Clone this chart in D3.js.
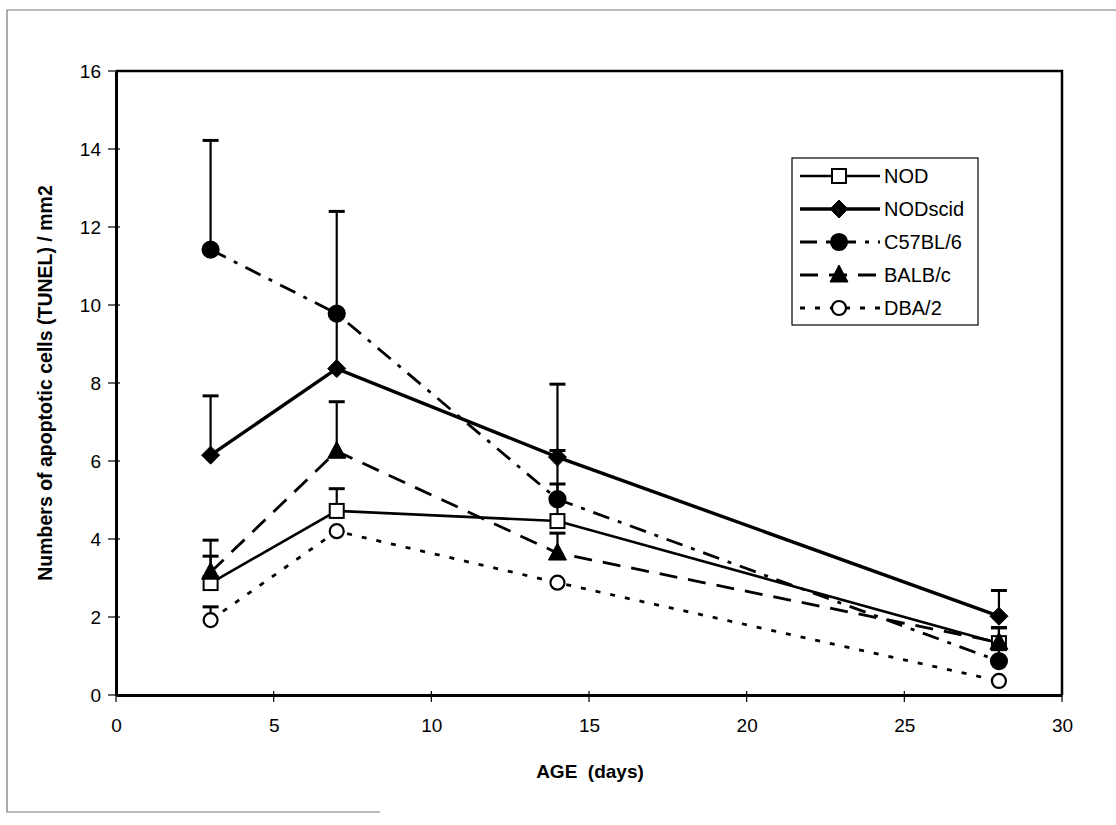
<!DOCTYPE html>
<html>
<head>
<meta charset="utf-8">
<script src="https://cdn.jsdelivr.net/npm/d3@7"></script>
<style>
  body { margin: 0; background: #fff; }
  svg { display: block; font-family: "Liberation Sans", Arial, sans-serif; }
</style>
</head>
<body>
<div id="chart"></div>
<script>
// values
const days = [3, 7, 14, 28];
const xTicks = [0, 5, 10, 15, 20, 25, 30];
const yTicks = [0, 2, 4, 6, 8, 10, 12, 14, 16];

const nodMean = [2.87, 4.72, 4.46, 1.33];
const nodErr = [0.69, 0.57, 0.95, 0.4];
const nodscidMean = [6.15, 8.37, 6.1, 2.02];
const nodscidErr = [1.52, 1.45, 1.87, 0.66];
const c57Mean = [11.42, 9.78, 5.02, 0.87];
const c57Err = [2.8, 2.62, 1.25, 0.3];
const balbMean = [3.15, 6.25, 3.64, 1.35];
const balbErr = [0.82, 1.27, 0.51, 0.37];
const dbaMean = [1.92, 4.2, 2.88, 0.36];
const dbaErr = [0.34, 0, 0, 0];

const seriesNames = ["NOD", "NODscid", "C57BL/6", "BALB/c", "DBA/2"];

const series = [
  { name: seriesNames[0], mean: nodMean, err: nodErr, dash: null, width: 2.6, marker: "square", fill: "#fff" },
  { name: seriesNames[1], mean: nodscidMean, err: nodscidErr, dash: null, width: 3.4, marker: "diamond", fill: "#000" },
  { name: seriesNames[2], mean: c57Mean, err: c57Err, dash: "17,9,4,9", width: 2.8, marker: "circle", fill: "#000" },
  { name: seriesNames[3], mean: balbMean, err: balbErr, dash: "18,11", width: 2.8, marker: "triangle", fill: "#000" },
  { name: seriesNames[4], mean: dbaMean, err: dbaErr, dash: "5,10", width: 2.8, marker: "circle", fill: "#fff" }
];

const W = 1116, H = 825;
const svg = d3.select("#chart").append("svg")
  .attr("width", W)
  .attr("height", H);

// faint outer frame of the scanned page
svg.append("path")
  .attr("d", "M1116,10 H7 V812 H380")
  .attr("fill", "none")
  .attr("stroke", "#777")
  .attr("stroke-width", 1.2);

const x = d3.scaleLinear().domain([0, 30]).range([116, 1062]);
const y = d3.scaleLinear().domain([0, 16]).range([695, 71]);

// plot area border (top and right)
svg.append("path")
  .attr("d", `M${x(0)},${y(16)} H${x(30)} V${y(0)}`)
  .attr("fill", "none")
  .attr("stroke", "#000")
  .attr("stroke-width", 2.5);

// axes
const xAxis = svg.append("g")
  .attr("transform", `translate(0,${y(0)})`)
  .call(d3.axisBottom(x).tickValues(xTicks).tickSize(0).tickPadding(24));
xAxis.select(".domain").attr("stroke-width", 3);
xAxis.selectAll("text").attr("font-size", 19).attr("fill", "#000");
svg.append("g").selectAll("line")
  .data(xTicks)
  .join("line")
  .attr("x1", d => x(d)).attr("x2", d => x(d))
  .attr("y1", y(0) - 4).attr("y2", y(0) + 7)
  .attr("stroke", "#000").attr("stroke-width", 1.2);

const yAxis = svg.append("g")
  .attr("transform", `translate(${x(0)},0)`)
  .call(d3.axisLeft(y).tickValues(yTicks).tickSize(0).tickPadding(15));
yAxis.select(".domain").attr("stroke-width", 3);
yAxis.selectAll("text").attr("font-size", 19).attr("fill", "#000");
svg.append("g").selectAll("line")
  .data(yTicks)
  .join("line")
  .attr("x1", x(0) - 8).attr("x2", x(0) + 4)
  .attr("y1", d => y(d)).attr("y2", d => y(d))
  .attr("stroke", "#000").attr("stroke-width", 1.2);

svg.append("text")
  .attr("x", 590).attr("y", 778)
  .attr("text-anchor", "middle")
  .attr("font-size", 19).attr("font-weight", "bold")
  .attr("xml:space", "preserve")
  .text("AGE  (days)");

svg.append("text")
  .attr("transform", "translate(52,383) rotate(-90)")
  .attr("text-anchor", "middle")
  .attr("font-size", 19.5).attr("font-weight", "bold")
  .text("Numbers of apoptotic cells (TUNEL) / mm2");

function drawMarker(g, type, fill, cx, cy) {
  if (type === "square") {
    g.append("rect").attr("x", cx - 7).attr("y", cy - 7).attr("width", 14).attr("height", 14)
      .attr("fill", fill).attr("stroke", "#000").attr("stroke-width", 2);
  } else if (type === "diamond") {
    g.append("path").attr("d", `M${cx},${cy - 9} L${cx + 9},${cy} L${cx},${cy + 9} L${cx - 9},${cy} Z`)
      .attr("fill", fill).attr("stroke", "#000").attr("stroke-width", 1);
  } else if (type === "triangle") {
    g.append("path").attr("d", `M${cx},${cy - 10} L${cx + 9},${cy + 7} L${cx - 9},${cy + 7} Z`)
      .attr("fill", fill).attr("stroke", "#000").attr("stroke-width", 1);
  } else {
    g.append("circle").attr("cx", cx).attr("cy", cy).attr("r", fill === "#000" ? 8 : 7)
      .attr("fill", fill).attr("stroke", "#000").attr("stroke-width", 2.2);
  }
}

const line = d3.line().x(d => x(d[0])).y(d => y(d[1]));

// lines
series.forEach(s => {
  svg.append("path")
    .datum(days.map((d, i) => [d, s.mean[i]]))
    .attr("d", line)
    .attr("fill", "none")
    .attr("stroke", "#000")
    .attr("stroke-width", s.width)
    .attr("stroke-dasharray", s.dash);
});

// error bars (upper only)
series.forEach(s => {
  const g = svg.append("g");
  days.forEach((d, i) => {
    if (!s.err[i]) return;
    const top = y(s.mean[i] + s.err[i]);
    g.append("line")
      .attr("x1", x(d)).attr("x2", x(d))
      .attr("y1", y(s.mean[i])).attr("y2", top)
      .attr("stroke", "#000").attr("stroke-width", 2.2);
    g.append("line")
      .attr("x1", x(d) - 8).attr("x2", x(d) + 8)
      .attr("y1", top).attr("y2", top)
      .attr("stroke", "#000").attr("stroke-width", 3);
  });
});

// markers
series.forEach(s => {
  const g = svg.append("g");
  days.forEach((d, i) => drawMarker(g, s.marker, s.fill, x(d), y(s.mean[i])));
});

// legend
const leg = svg.append("g");
leg.append("rect")
  .attr("x", 792).attr("y", 158).attr("width", 186).attr("height", 167)
  .attr("fill", "#fff").attr("stroke", "#000").attr("stroke-width", 1.2);
series.forEach((s, i) => {
  const ly = 176 + i * 33;
  leg.append("line")
    .attr("x1", 800).attr("x2", 880)
    .attr("y1", ly).attr("y2", ly)
    .attr("stroke", "#000")
    .attr("stroke-width", s.width)
    .attr("stroke-dasharray", s.dash);
  drawMarker(leg, s.marker, s.fill, 839, ly);
  leg.append("text")
    .attr("x", 884).attr("y", ly)
    .attr("dy", "0.36em")
    .attr("font-size", 20)
    .text(s.name);
});
</script>
</body>
</html>
